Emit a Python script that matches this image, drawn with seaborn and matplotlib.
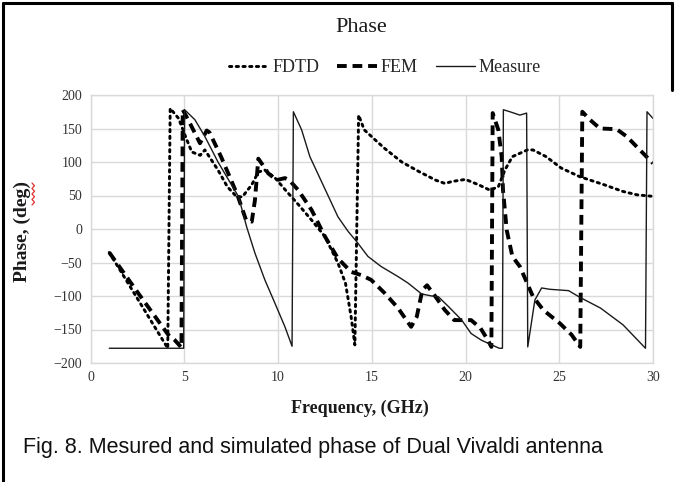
import matplotlib
matplotlib.use("Agg")
import matplotlib.pyplot as plt
from matplotlib.lines import Line2D
import seaborn as sns
import pandas as pd
import numpy as np

# ---- data ----
fdtd_freq = [1.0, 4.12, 4.25, 4.7, 5.04, 5.4, 5.85, 6.1, 6.8, 7.3, 7.8, 8.1, 8.6, 8.95, 9.3,
             9.85, 10.4, 11.1, 11.8, 12.5, 13.2, 13.6, 13.9, 14.1, 14.3, 14.6, 15.3, 15.7,
             16.6, 17.5, 18.4, 18.9, 19.3, 20.0, 20.7, 21.3, 21.75, 22.1, 22.5, 23.3, 23.6,
             24.3, 25.1, 26.1, 27.4, 28.4, 29.15, 29.9]
fdtd_phase = [-35, -178, 180, 165, 140, 115, 110, 118, 88, 63, 48, 48, 66, 85, 88,
              76, 58, 36, 13, -11, -51, -81, -131, -173, 170, 148, 130, 120,
              100, 86, 73, 68, 71, 74, 66, 58, 63, 88, 108, 118, 118,
              108, 91, 78, 66, 56, 51, 49]

fem_freq = [1.0, 2.55, 4.15, 4.5, 4.85, 4.92, 5.3, 5.84, 6.2, 6.35, 6.96, 7.5, 7.87, 8.3, 8.6,
            8.77, 8.95, 9.2, 9.48, 9.93, 10.37, 10.6, 11.08, 11.8, 12.5, 13.2, 13.9, 14.46,
            14.97, 15.7, 16.4, 17.1, 17.4, 17.7, 17.95, 18.4, 18.9, 19.4, 20.0, 20.3, 20.8,
            21.2, 21.38, 21.45, 21.75, 21.93, 22.0, 22.2, 22.5, 22.9, 23.6, 24.15, 25.04,
            25.66, 26.12, 26.23, 26.64, 27.17, 28.06, 28.6, 29.3, 30.0]
fem_phase = [-35, -96, -158, -166, -177, 178, 158, 128, 147, 144, 108, 73, 48, 13, 11,
             43, 105, 95, 83, 73, 76, 73, 58, 28, -11, -44, -64, -69,
             -76, -96, -118, -146, -131, -91, -84, -101, -121, -136, -136, -136, -148,
             -166, -176, 173, 148, 108, 58, -2, -41, -56, -101, -121, -141,
             -158, -176, 175, 163, 150, 149, 138, 118, 98]

meas_freq = [1.0, 4.97, 5.02, 5.57, 6.1, 6.8, 7.9, 8.33, 8.77, 9.3, 9.84, 10.37, 10.75, 10.82,
             11.26, 11.7, 12.2, 12.7, 13.2, 13.75, 14.2, 14.8, 15.5, 16.4, 16.95, 17.66, 18.2,
             18.55, 19.1, 19.8, 20.3, 20.85, 21.4, 21.8, 21.97, 22.02, 22.37, 22.9, 23.26,
             23.32, 23.7, 24.06, 24.5, 25.5, 26.1, 27.2, 28.4, 29.6, 29.68, 30.0]
meas_phase = [-178, -178, 178, 163, 138, 100, 48, 3, -36, -76, -111, -146, -175, 175,
              148, 108, 78, 48, 18, -4, -19, -41, -56, -71, -81, -97, -100,
              -101, -116, -136, -156, -166, -173, -178, -178, 178, 175, 170, 173,
              -176, -106, -88, -90, -92, -102, -118, -143, -178, 175, 165]

series_names = ["FDTD", "FEM", "Measure"]
x_ticks = [0, 5, 10, 15, 20, 25, 30]
y_ticks = [-200, -150, -100, -50, 0, 50, 100, 150, 200]

# ---- style ----
sns.set_theme(style="whitegrid")
plt.rcParams['font.family'] = ['Liberation Serif', 'DejaVu Serif']

fig = plt.figure(figsize=(6.75, 4.82), dpi=100)
ax = fig.add_axes([90.5 / 675, 1 - 363 / 482, (653 - 90.5) / 675, (363 - 95) / 482])

sns.lineplot(x=fdtd_freq, y=fdtd_phase, ax=ax, sort=False, estimator=None,
             color="black", linewidth=2.1, label=series_names[0])
sns.lineplot(x=fem_freq, y=fem_phase, ax=ax, sort=False, estimator=None,
             color="black", linewidth=2.8, label=series_names[1])
sns.lineplot(x=meas_freq, y=meas_phase, ax=ax, sort=False, estimator=None,
             color="#1a1a1a", linewidth=1.0, label=series_names[2])

l_fdtd, l_fem, l_meas = ax.lines[:3]
l_fdtd.set_linestyle((0, (0.8, 1.5)))
l_fdtd.set_dash_capstyle("round")
l_fem.set_linestyle((0, (2.5, 1.5)))
l_fem.set_dash_capstyle("butt")
l_meas.set_linestyle("-")

ax.set_xlim(0, 30)
ax.set_ylim(-200, 200)
ax.set_xticks(x_ticks)
ax.set_yticks(y_ticks)
ax.tick_params(axis="both", length=0, labelsize=10, labelcolor="#333333", pad=6)
ax.grid(True, color="#d9d9d9", linewidth=1.0)
for sp in ax.spines.values():
    sp.set_color("#d9d9d9")
    sp.set_linewidth(1.0)
ax.set_xlabel("")
ax.set_ylabel("")

handles, labels = ax.get_legend_handles_labels()
ax.get_legend().remove()
fig.legend(handles, labels, loc="center", bbox_to_anchor=(385 / 675, 1 - 68 / 482),
           ncol=3, frameon=False, fontsize=13, handlelength=2.2, handletextpad=0.2,
           columnspacing=1.0)

fig.text(361 / 675, 1 - 28 / 482, "Phase", ha="center", va="center", fontsize=16,
         color="#1a1a1a")
fig.text(360 / 675, 1 - 408 / 482, "Frequency, (GHz)", ha="center", va="center",
         fontsize=13, fontweight="bold", color="#1a1a1a")
fig.text(22 / 675, 1 - 232 / 482, "Phase, (deg)", ha="center", va="center",
         fontsize=14, fontweight="bold", rotation=90, color="#1a1a1a")
fig.text(23 / 675, 1 - 447 / 482, "Fig. 8. Mesured and simulated phase of Dual Vivaldi antenna",
         ha="left", va="center", fontsize=15.5, family=["Liberation Sans", "DejaVu Sans"],
         color="#111111")

# red spell-check squiggle next to "deg"
zz_y = np.linspace(183, 205, 9)
zz_x = np.where(np.arange(9) % 2 == 0, 32, 34.5)
fig.add_artist(Line2D(zz_x / 675, 1 - zz_y / 482, color="#e03030", linewidth=0.9))

# page frame
fig.add_artist(Line2D([3 / 675, 3 / 675], [0, 1 - 3 / 482], color="black", linewidth=2.2))
fig.add_artist(Line2D([3 / 675, 672 / 675], [1 - 3 / 482, 1 - 3 / 482], color="black", linewidth=2.2))
fig.add_artist(Line2D([672 / 675, 672 / 675], [1 - 3 / 482, 1 - 90 / 482], color="black", linewidth=2.2))

fig.savefig("out.png", dpi=100)
